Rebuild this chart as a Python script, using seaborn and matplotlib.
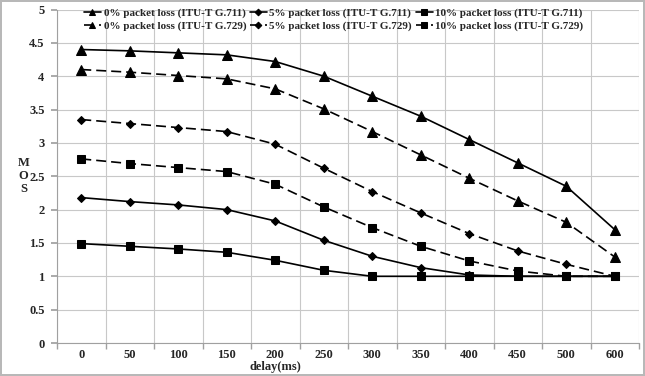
import numpy as np
import pandas as pd
import matplotlib
matplotlib.use("Agg")
import matplotlib.pyplot as plt
import seaborn as sns

sns.set_theme(style="whitegrid", rc={"grid.color": "#c8c8c8", "grid.linewidth": 0.8,
                                     "axes.edgecolor": "#a0a0a0", "axes.linewidth": 0.8})
plt.rcParams["font.family"] = ["Liberation Serif", "DejaVu Serif"]
plt.rcParams["font.weight"] = "bold"

delays = ["0", "50", "100", "150", "200", "250", "300", "350", "400", "450", "500", "600"]

g711_0 = [4.40, 4.38, 4.35, 4.32, 4.22, 4.00, 3.70, 3.40, 3.05, 2.70, 2.35, 1.70]
g711_5 = [2.18, 2.12, 2.07, 2.00, 1.83, 1.54, 1.30, 1.13, 1.02, 1.00, 1.00, 1.00]
g711_10 = [1.49, 1.45, 1.41, 1.36, 1.24, 1.09, 1.00, 1.00, 1.00, 1.00, 1.00, 1.00]
g729_0 = [4.10, 4.06, 4.01, 3.96, 3.81, 3.51, 3.17, 2.82, 2.47, 2.13, 1.81, 1.29]
g729_5 = [3.35, 3.29, 3.23, 3.17, 2.98, 2.62, 2.27, 1.95, 1.64, 1.38, 1.18, 1.00]
g729_10 = [2.76, 2.69, 2.63, 2.57, 2.38, 2.04, 1.73, 1.45, 1.23, 1.08, 1.00, 1.00]

series = [
    ("0% packet loss (ITU-T G.711)", g711_0, "^", None),
    ("0% packet loss (ITU-T G.729)", g729_0, "^", (6, 3)),
    ("5% packet loss (ITU-T G.711)", g711_5, "D", None),
    ("5% packet loss (ITU-T G.729)", g729_5, "D", (6, 3)),
    ("10% packet loss (ITU-T G.711)", g711_10, "s", None),
    ("10% packet loss (ITU-T G.729)", g729_10, "s", (6, 3)),
]
msize = {"^": 6.5, "D": 4.5, "s": 5.5}

fig = plt.figure(figsize=(6.45, 3.76), dpi=100, edgecolor="#b8b8b8", linewidth=1.5)
ax = fig.add_axes([57 / 645, 33 / 376, 582 / 645, 333.5 / 376])

xpos = np.arange(len(delays))
for name, vals, mk, dash in series:
    sns.lineplot(x=xpos, y=vals, ax=ax, color="black", marker=mk, markersize=msize[mk],
                 markeredgecolor="black", linewidth=1.2, label=name)
    if dash is not None:
        ax.lines[-1].set_dashes(dash)

ax.set_xlim(-0.5, len(delays) - 0.5)
ax.set_ylim(0, 5)
ax.set_yticks(np.arange(0, 5.01, 0.5))
ax.set_yticklabels(["0", "0.5", "1", "1.5", "2", "2.5", "3", "3.5", "4", "4.5", "5"], fontsize=9, fontweight="bold")
ax.set_xticks(xpos)
ax.set_xticklabels(delays, fontsize=9, fontweight="bold")
ax.set_xticks(np.arange(-0.5, len(delays), 1), minor=True)
ax.grid(False, axis="x", which="major")
ax.grid(True, axis="x", which="minor")
ax.tick_params(axis="x", which="major", length=0, pad=4)
ax.tick_params(axis="x", which="minor", length=4, color="#a0a0a0", bottom=True)
ax.tick_params(axis="y", length=4, color="#a0a0a0", left=True, pad=5)
for s in ["top", "right"]:
    ax.spines[s].set_visible(False)

ax.set_xlabel("delay(ms)", fontsize=9, fontweight="bold")
ax.xaxis.set_label_coords(4.5 / 12, -0.054)
ax.set_ylabel("M\nO\nS", fontsize=9, fontweight="bold", rotation=0, labelpad=4,
              va="center", linespacing=1.1)

leg = ax.legend(ncol=3, loc="upper left", bbox_to_anchor=(0.037, 1.02), frameon=False,
                fontsize=8, handlelength=1.5, handletextpad=0.25, columnspacing=0.35,
                labelspacing=0.2, borderaxespad=0.1, markerscale=0.75)
for t in leg.get_texts():
    t.set_fontweight("bold")

fig.savefig("out.png", dpi=100, edgecolor=fig.get_edgecolor())
